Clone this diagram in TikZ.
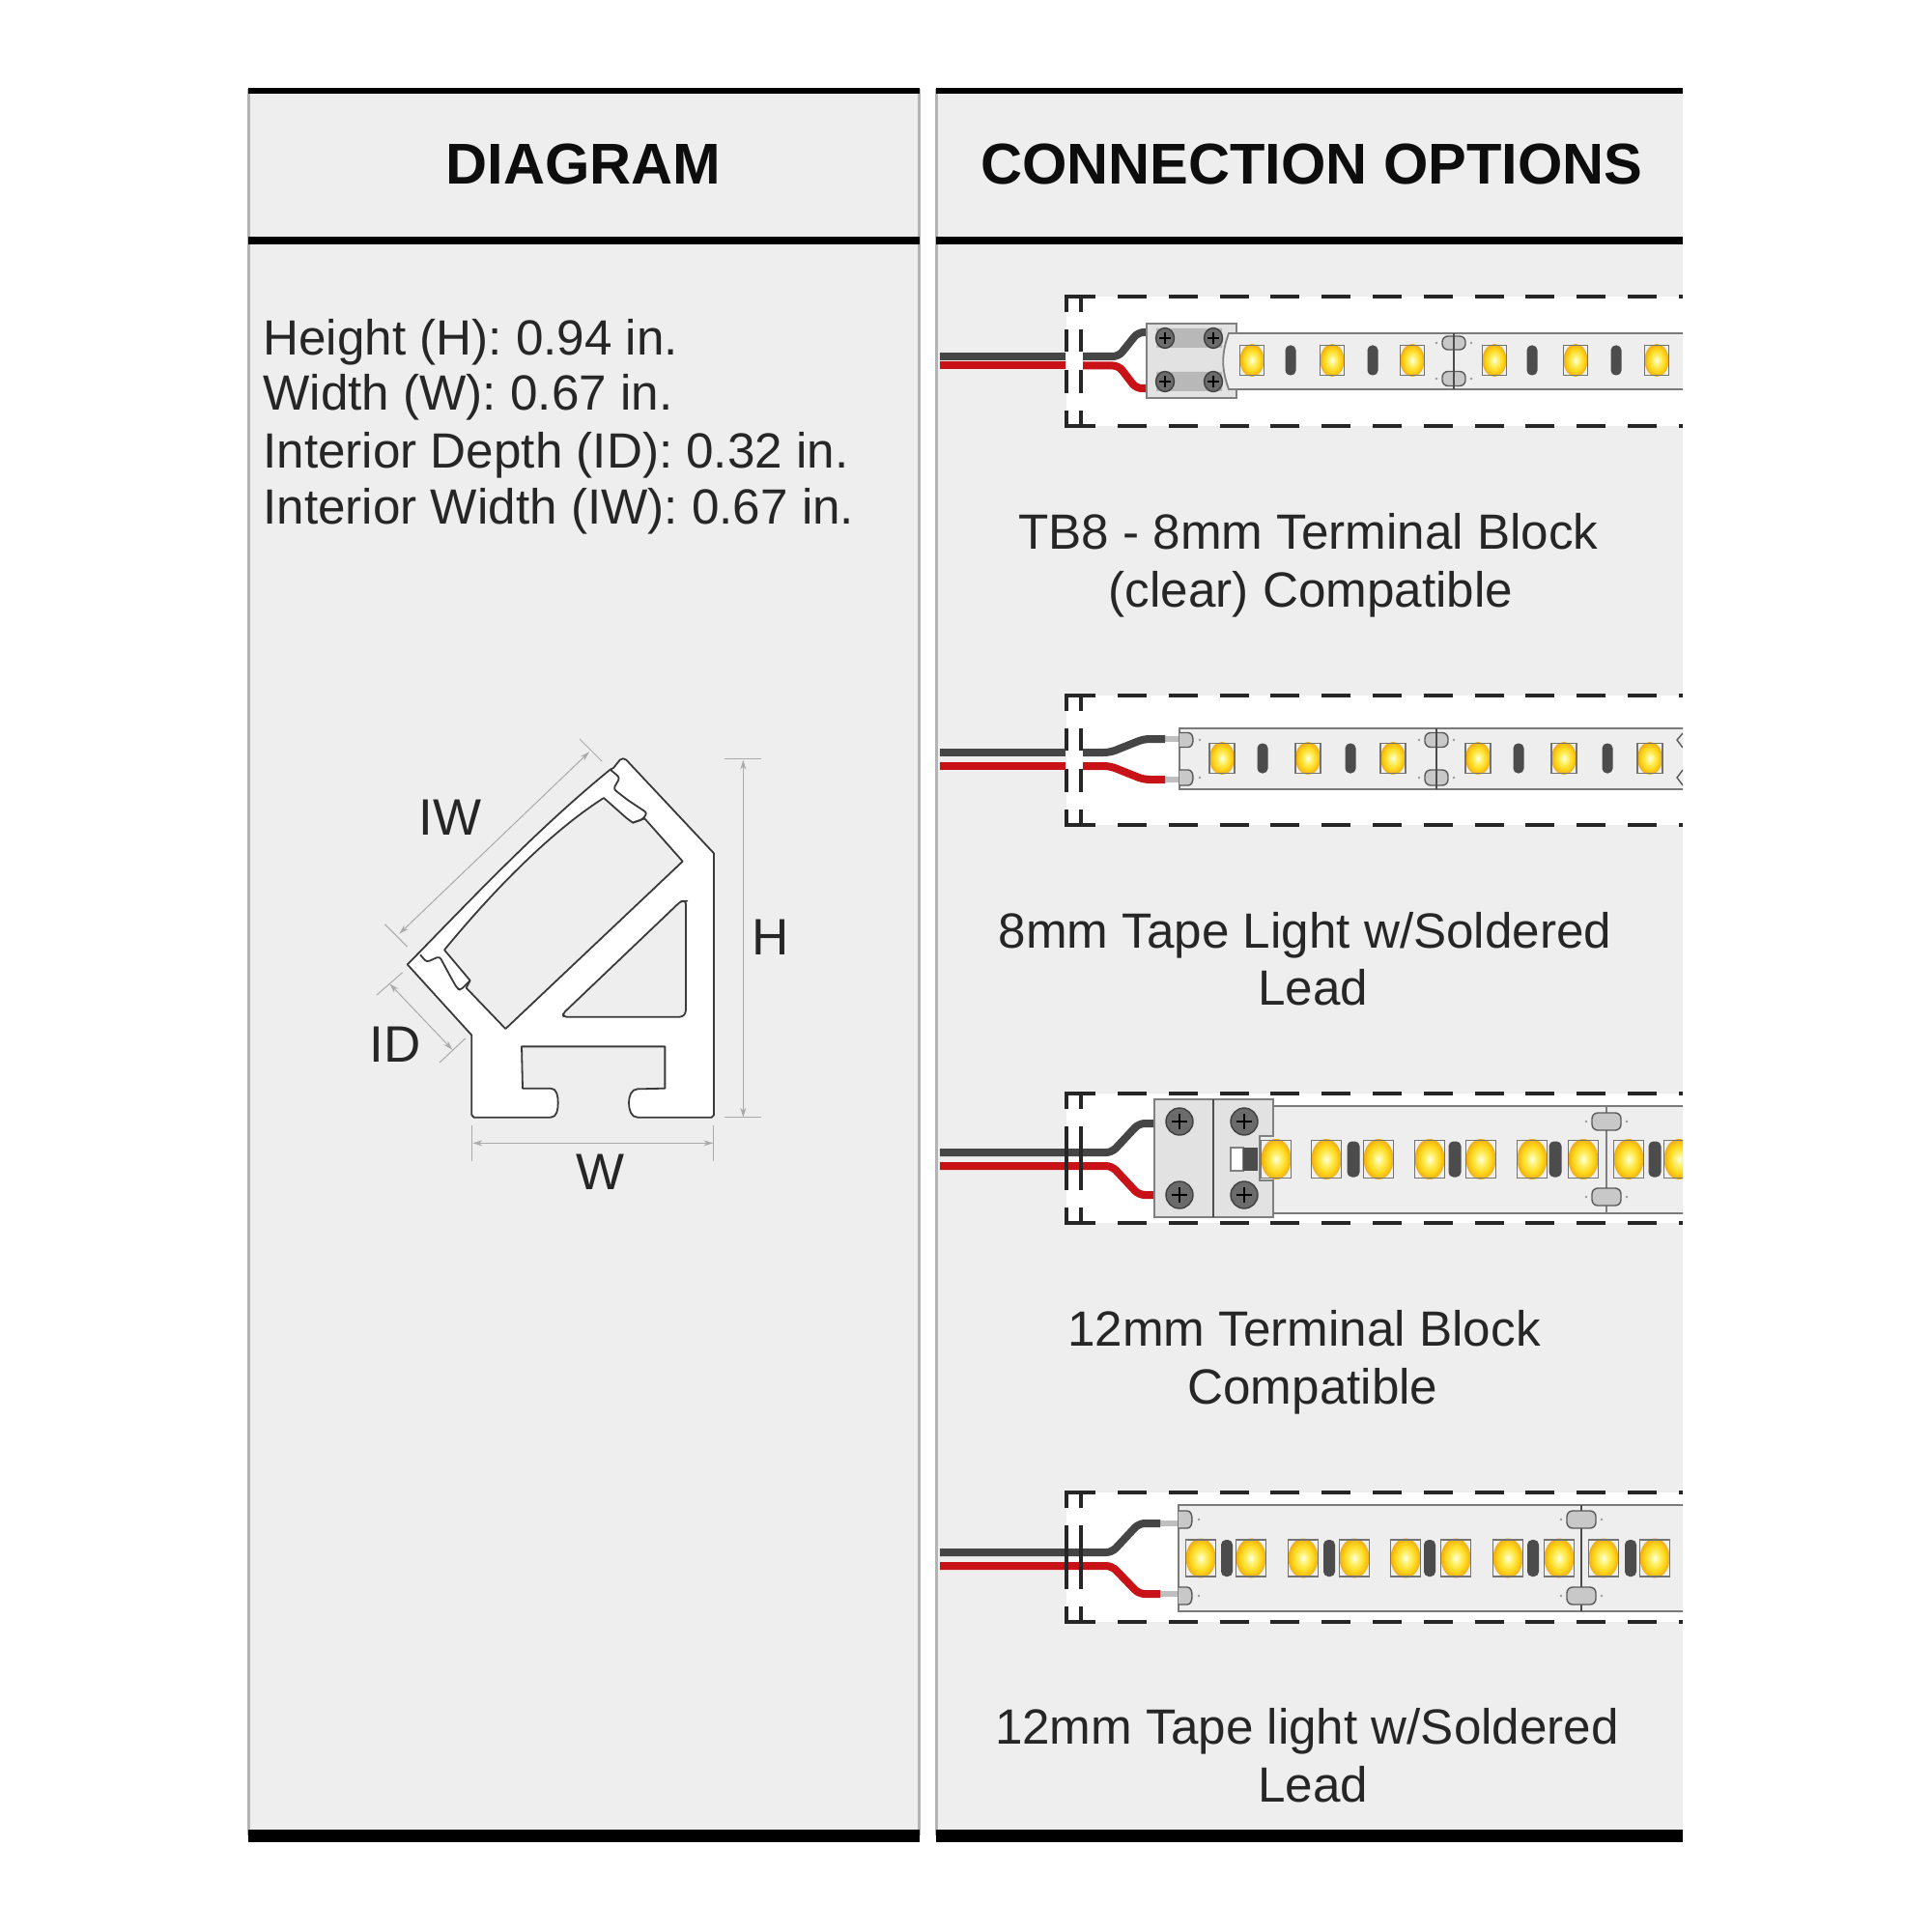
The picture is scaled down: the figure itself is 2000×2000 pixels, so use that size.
\documentclass[tikz,border=0pt]{standalone}
\usepackage{fontspec}
\setmainfont{Liberation Sans}
\usetikzlibrary{arrows.meta}
\definecolor{panelgray}{HTML}{EEEEEE}
\definecolor{edgegray}{HTML}{B4B4B4}
\definecolor{wireblack}{HTML}{454545}
\definecolor{wirered}{HTML}{C81218}
\definecolor{tapeline}{HTML}{7A7A7A}
\definecolor{connfill}{HTML}{E2E2E2}
\definecolor{padfill}{HTML}{C8C8C8}
\definecolor{inkdark}{HTML}{3A3A3A}
\definecolor{dimgray}{HTML}{AAAAAA}
\pgfdeclareradialshading{ledglow}{\pgfpoint{0bp}{0bp}}{rgb(0bp)=(1,1,.9); rgb(7bp)=(1,.95,.45); rgb(17bp)=(1,.84,.1); rgb(25bp)=(.93,.68,.1); rgb(50bp)=(.93,.68,.1)}
\tikzset{
  panel/.style={fill=panelgray,draw=none},
  sideedge/.style={draw=edgegray,line width=1.5pt},
  blackbar/.style={fill=black,draw=none},
  headtext/.style={inner sep=0pt,anchor=base,font=\fontsize{29.8}{32}\selectfont\bfseries,text=black!95},
  bodytext/.style={inner sep=0pt,anchor=base west,font=\fontsize{25.6}{30}\selectfont,text=black!85},
  captext/.style={inner sep=0pt,anchor=base,font=\fontsize{25.6}{30}\selectfont,text=black!85},
  dimtext/.style={inner sep=0pt,anchor=base,font=\fontsize{26.5}{30}\selectfont,text=black!85},
  blackwire/.style={draw=wireblack,line width=4pt,rounded corners=3pt},
  redwire/.style={draw=wirered,line width=4pt,rounded corners=3pt},
  stubwire/.style={draw=black!25,line width=3pt},
  tapebody/.style={fill=panelgray,draw=tapeline,line width=1.1pt},
  connbody/.style={fill=connfill,draw=black!50,line width=0.9pt},
  framedash/.style={draw=black!85,line width=2pt},
  runner/.style={framedash,dash pattern=on 15pt off 11.4pt},
  cutline/.style={draw=black!70,line width=0.7pt},
  dimline/.style={draw=dimgray,line width=0.5pt},
  dimarrow/.style={dimline,{Stealth[length=5pt,width=3pt]}-{Stealth[length=5pt,width=3pt]}},
  profileline/.style={draw=inkdark,line width=0.9pt,line join=round}
}
\newcommand{\ledAt}[4]{%
  \fill[black!6] ({#1-#3/2},{#2-#4/2}) rectangle ({#1+#3/2},{#2+#4/2});
  \shade[shading=ledglow] (#1,#2) ellipse [x radius={#3/2},y radius={#4/2+1.5}];
  \draw[black!55,line width=0.7pt] ({#1-#3/2},{#2-#4/2}) rectangle ({#1+#3/2},{#2+#4/2});}
\newcommand{\resAt}[4]{%
  \fill[black!70,rounded corners=2.5pt] ({#1-#3/2},{#2-#4/2}) rectangle ({#1+#3/2},{#2+#4/2});}
\newcommand{\padAt}[4]{%
  \draw[fill=padfill,draw=black!65,line width=0.7pt,rounded corners=3pt] ({#1-#3/2},{#2-#4/2}) rectangle ({#1+#3/2},{#2+#4/2});
  \fill[black!40] ({#1-#3/2-6},#2) circle (0.7pt) ({#1+#3/2+6},#2) circle (0.7pt);}
\newcommand{\halfPadAt}[4]{%
  \draw[fill=padfill,draw=black!65,line width=0.7pt] (#1,{#2-#4/2}) -- ({#1+#3-5},{#2-#4/2}) to[out=0,in=90] ({#1+#3},#2) to[out=-90,in=0] ({#1+#3-5},{#2+#4/2}) -- (#1,{#2+#4/2});
  \fill[black!40] ({#1+#3+7},#2) circle (0.7pt);}
\newcommand{\screwAt}[4]{%
  \draw[fill=black!58,draw=black!75,line width=0.7pt] (#1,#2) ellipse [x radius=#3,y radius=#4];
  \draw[black,line width=0.8pt] ({#1-#3*0.6},#2) -- ({#1+#3*0.6},#2) (#1,{#2-#3*0.6}) -- (#1,{#2+#3*0.6});}
\newcommand{\stripFrame}[1]{%
  \fill[white] (1104,#1) rectangle (1742,{#1+134});
  \draw[framedash] (1104,{#1+16}) -- (1104,#1) -- (1134,#1);
  \draw[framedash] (1119,#1) -- (1119,{#1+16});
  \draw[framedash] (1104,{#1+34}) -- (1104,{#1+57}) (1119,{#1+34}) -- (1119,{#1+57});
  \draw[framedash] (1104,{#1+76}) -- (1104,{#1+100}) (1119,{#1+76}) -- (1119,{#1+100});
  \draw[framedash] (1104,{#1+118}) -- (1104,{#1+134}) -- (1134,{#1+134});
  \draw[framedash] (1119,{#1+118}) -- (1119,{#1+134});
  \draw[runner] (1157,#1) -- (1742,#1);
  \draw[runner] (1157,{#1+134}) -- (1742,{#1+134});}
\begin{document}
\begin{tikzpicture}[x=0.5pt,y=-0.5pt]
\useasboundingbox (0,0) rectangle (2000,2000);
\fill[white] (0,0) rectangle (2000,2000);
% panels
\path[panel] (257,92) rectangle (951,1900);
\path[panel] (969,92) rectangle (1742,1900);
\draw[sideedge] (257,92) -- (257,1900) (951,92) -- (951,1900) (969,92) -- (969,1900);
\path[blackbar] (257,91) rectangle (952,97);
\path[blackbar] (969,91) rectangle (1742,97);
\path[blackbar] (257,245) rectangle (952,253);
\path[blackbar] (969,245) rectangle (1742,253);
\path[blackbar] (257,1894) rectangle (952,1907);
\path[blackbar] (969,1894) rectangle (1742,1907);
\node[headtext] (headdiagram) at (604,191) {DIAGRAM};
\node[headtext] (headconn) at (1358,191) {CONNECTION OPTIONS};
\node[bodytext] (lineh) at (272,368) {Height (H): 0.94 in.};
\node[bodytext] (linew) at (272,425) {Width (W): 0.67 in.};
\node[bodytext] (lineid) at (272,485) {Interior Depth (ID): 0.32 in.};
\node[bodytext] (lineiw) at (272,542) {Interior Width (IW): 0.67 in.};
% profile
\begin{scope}[shift={(360,740)},x=0.16667pt,y=-0.16667pt]
  \draw[dimarrow] (160,680) -- (750,115);
  \draw[dimline] (115,650) -- (185,720) (720,75) -- (790,145);
  \draw[dimarrow] (130,835) -- (325,1040);
  \draw[dimline] (90,870) -- (170,800) (285,1080) -- (365,1005);
  \draw[dimarrow] (1228,140) -- (1228,1250);
  \draw[dimline] (1170,135) -- (1285,135) (1170,1250) -- (1285,1250);
  \draw[dimarrow] (388,1330) -- (1135,1330);
  \draw[dimline] (386,1275) -- (386,1385) (1135,1275) -- (1135,1385);
  \draw[profileline,fill=white] (845,140) to[out=45,in=135] (865,140) -- (1137,430) -- (1137,1243) to[out=90,in=0] (1130,1250) -- (900,1250) to[out=180,in=-90] (873,1205) to[out=90,in=180] (900,1162) -- (985,1160) -- (985,1030) -- (540,1030) -- (543,1160) -- (630,1160) to[out=0,in=90] (653,1205) to[out=-90,in=0] (630,1250) -- (392,1250) to[out=180,in=90] (385,1243) -- (385,995) -- (185,775) -- (215,745) .. controls (400,555) and (600,345) .. (815,170) -- (825,165) -- cycle;
  \draw[profileline,fill=panelgray] (795,258) .. controls (620,370) and (440,560) .. (300,730) -- (380,825) -- (368,848) -- (490,975) -- (1040,455) -- (922,322) -- (885,335) -- (865,320) -- cycle;
  \draw[profileline,fill=panelgray,rounded corners=1.5pt] (1045,578) -- (1050,578) -- (1050,925) -- (1040,938) -- (670,938) -- (668,928) -- (1035,578) -- cycle;
  \draw[profileline,rounded corners=1.5pt] (225,745) -- (245,768) -- (285,750) -- (320,815) -- (340,850) -- (350,855) -- (380,825);
  \draw[profileline,rounded corners=1.5pt] (815,170) -- (845,195) -- (825,230) -- (870,265) -- (930,305) -- (915,325) -- (885,335);
\end{scope}
\node[dimtext] (lbliw) at (466,864) {IW};
\node[dimtext] (lblid) at (409,1099) {ID};
\node[dimtext] (lblh) at (798,988) {H};
\node[dimtext] (lblw) at (622,1231) {W};
% strips
\begin{scope}
\clip (969,200) rectangle (1742,1890);
% strip 1
\stripFrame{307}
\draw[blackwire] (973,369) -- (1103,369);
\draw[redwire] (973,378.5) -- (1103,378.5);
\draw[blackwire] (1121,369) -- (1158,369) -- (1178,344) -- (1190,344);
\draw[redwire] (1121,378.5) -- (1158,378.5) -- (1176,402) -- (1190,402);
\draw[tapebody] (1260,345) rectangle (1750,403);
\foreach \lx in {1296,1379,1462,1547,1631,1715} {\ledAt{\lx}{373}{25}{31}}
\foreach \lx in {1336,1421,1586,1673} {\resAt{\lx}{373}{11}{31}}
\padAt{1505}{355}{24}{14}
\padAt{1505}{392}{24}{15}
\draw[cutline] (1505,345) -- (1505,403);
\draw[connbody] (1187,335) -- (1280,335) -- (1280,345) -- (1272,345) to[out=-110,in=110] (1272,403) -- (1280,403) -- (1280,412) -- (1187,412) -- cycle;
\fill[black!28] (1197,340) rectangle (1265,360) (1197,385) rectangle (1265,405);
\screwAt{1206}{350}{9.5}{10.5}
\screwAt{1256}{350}{9.5}{10.5}
\screwAt{1206}{395}{9.5}{10.5}
\screwAt{1256}{395}{9.5}{10.5}
% strip 2
\stripFrame{720}
\draw[blackwire] (973,779) -- (1103,779);
\draw[redwire] (973,793) -- (1103,793);
\draw[stubwire] (1205,765) -- (1222,765) (1205,807) -- (1222,807);
\draw[blackwire] (1121,779) -- (1149,779) -- (1184,765) -- (1206,765);
\draw[redwire] (1121,793) -- (1149,793) -- (1184,807) -- (1206,807);
\draw[tapebody] (1221,754) rectangle (1750,817);
\foreach \lx in {1265,1354,1442,1530,1619,1708} {\ledAt{\lx}{785}{26}{31}}
\foreach \lx in {1307,1398,1572,1664} {\resAt{\lx}{785}{11}{31}}
\halfPadAt{1221}{766}{14}{15}
\halfPadAt{1221}{805}{14}{16}
\padAt{1487}{766}{24}{15}
\padAt{1487}{805}{24}{16}
\draw[cutline] (1487,754) -- (1487,817);
\draw[draw=black!65,line width=0.7pt] (1742,759) -- (1736,766) -- (1742,774) (1742,797) -- (1736,805) -- (1742,813);
% strip 3
\stripFrame{1132}
\draw[blackwire] (973,1193) -- (1151,1193) -- (1179,1163) -- (1197,1163);
\draw[redwire] (973,1207) -- (1151,1207) -- (1179,1237) -- (1197,1237);
\draw[framedash] (1104,1166) -- (1104,1232) (1119,1166) -- (1119,1232);
\draw[tapebody] (1300,1145) rectangle (1750,1256);
\foreach \lx in {1321,1373,1427,1480,1533,1586,1639,1686,1738} {\ledAt{\lx}{1200}{31}{39}}
\foreach \lx in {1401,1506,1610,1713} {\resAt{\lx}{1200}{13}{37}}
\draw[draw=black!50,line width=1.2pt] (1663,1145) -- (1663,1256);
\padAt{1663}{1161}{30}{18}
\padAt{1663}{1239}{30}{18}
\draw[connbody] (1195,1138) -- (1318,1138) -- (1318,1176) -- (1304,1176) -- (1304,1222) -- (1318,1222) -- (1318,1260) -- (1195,1260) -- cycle;
\draw[black!70,line width=0.7pt] (1256,1138) -- (1256,1260);
\draw[fill=white,draw=black!50,line width=0.7pt] (1274,1188) rectangle (1287,1212);
\fill[black!70] (1287,1188) rectangle (1302,1212);
\screwAt{1221}{1161}{14}{14}
\screwAt{1288}{1161}{14}{14}
\screwAt{1221}{1237}{14}{14}
\screwAt{1288}{1237}{14}{14}
\ledAt{1321}{1200}{31}{39}
% strip 4
\stripFrame{1545}
\draw[stubwire] (1200,1577) -- (1222,1577) (1200,1650) -- (1222,1650);
\draw[blackwire] (973,1607) -- (1151,1607) -- (1179,1577) -- (1201,1577);
\draw[redwire] (973,1621) -- (1151,1621) -- (1179,1650) -- (1201,1650);
\draw[framedash] (1104,1579) -- (1104,1645) (1119,1579) -- (1119,1645);
\draw[tapebody] (1220,1558) rectangle (1750,1668);
\foreach \lx in {1243,1295,1349,1402,1455,1507,1561,1614,1660,1713} {\ledAt{\lx}{1613}{31}{38}}
\foreach \lx in {1270,1376,1480,1587,1688} {\resAt{\lx}{1613}{12}{38}}
\halfPadAt{1220}{1573}{14}{18}
\halfPadAt{1220}{1652}{14}{18}
\draw[cutline] (1637,1558) -- (1637,1668);
\padAt{1637}{1573}{30}{18}
\padAt{1637}{1652}{30}{18}
\end{scope}
% captions
\node[captext] (cap1a) at (1354.5,568) {TB8 - 8mm Terminal Block};
\node[captext] (cap1b) at (1357,628) {(clear) Compatible};
\node[captext] (cap2a) at (1351,981) {8mm Tape Light w/Soldered};
\node[captext] (cap2b) at (1359,1040) {Lead};
\node[captext] (cap3a) at (1350,1393) {12mm Terminal Block};
\node[captext] (cap3b) at (1359,1453) {Compatible};
\node[captext] (cap4a) at (1353,1805) {12mm Tape light w/Soldered};
\node[captext] (cap4b) at (1359,1865) {Lead};
\end{tikzpicture}
\end{document}
